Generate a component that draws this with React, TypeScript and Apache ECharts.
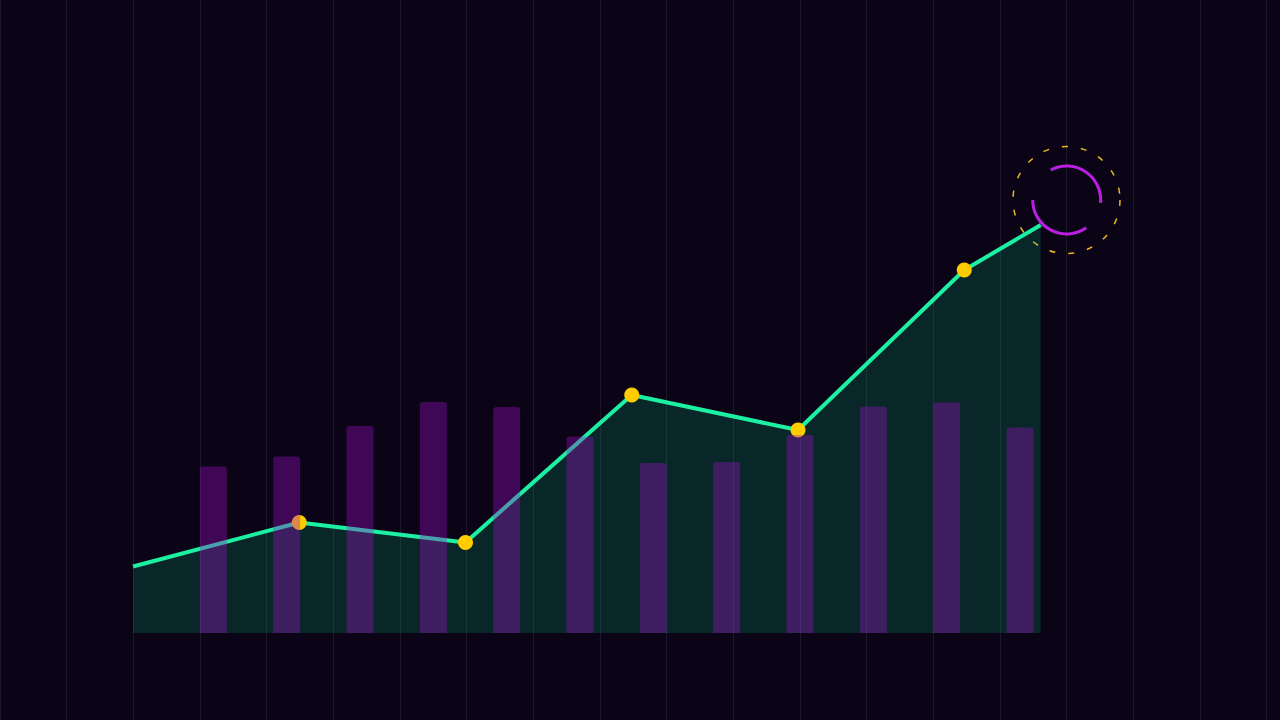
import React, { useEffect, useRef } from "react";
import * as echarts from "echarts";

// Line series: x position (in steps), value
const lineX = [0, 1, 2, 3, 4, 5, 5.46];
const lineValues = [13.3, 22.1, 18.1, 47.6, 40.6, 72.6, 81.6];
const lineMarked = [false, true, true, true, true, true, false];

// Bar series
const barCategories = ["1", "2", "3", "4", "5", "6", "7", "8", "9", "10", "11", "12"];
const barValues = [33.3, 35.3, 41.4, 46.2, 45.2, 39.3, 34.0, 34.2, 39.6, 45.3, 46.1, 41.1];

export default function App() {
  const ref = useRef<HTMLDivElement>(null);
  useEffect(() => {
    document.body.style.margin = "0";
    const chart = echarts.init(ref.current!, undefined, { renderer: "svg" });
    const deg = Math.PI / 180;
    chart.setOption({
      animation: false,
      backgroundColor: "#0b0316",
      grid: [
        { left: 0, right: 0, top: 0, bottom: 0 },
        { left: 133, right: 149.5, top: 133, bottom: 87 },
        { left: 176.67, right: 223.33, top: 133, bottom: 87 },
      ],
      xAxis: [
        {
          gridIndex: 0,
          type: "value",
          min: 0,
          max: 19.2,
          interval: 1,
          axisLine: { show: false },
          axisTick: { show: false },
          axisLabel: { show: false },
          splitLine: { show: true, lineStyle: { color: "#1d1729", width: 1 } },
        },
        { gridIndex: 1, type: "value", min: 0, max: 6, show: false },
        { gridIndex: 2, type: "category", data: barCategories, show: false },
      ],
      yAxis: [
        { gridIndex: 0, type: "value", min: 0, max: 1, show: false },
        { gridIndex: 1, type: "value", min: 0, max: 100, show: false },
        { gridIndex: 2, type: "value", min: 0, max: 100, show: false },
      ],
      series: [
        {
          type: "scatter",
          xAxisIndex: 0,
          yAxisIndex: 0,
          data: [],
        },
        {
          type: "line",
          xAxisIndex: 1,
          yAxisIndex: 1,
          z: 2,
          data: lineX.map((x, i) => ({
            value: [x, lineValues[i]],
            symbol: lineMarked[i] ? "circle" : "none",
          })),
          symbolSize: 15,
          showAllSymbol: true,
          itemStyle: { color: "#ffcc00" },
          lineStyle: { color: "#1cf0a2", width: 4 },
          areaStyle: { color: "rgba(0,240,150,0.15)", opacity: 1, origin: "start" },
        },
        {
          type: "bar",
          xAxisIndex: 2,
          yAxisIndex: 2,
          z: 3,
          data: barValues,
          barWidth: 27,
          itemStyle: {
            color: "rgba(158,16,200,0.36)",
            borderRadius: [3, 3, 0, 0],
          },
        },
      ],
      graphic: [
        {
          type: "circle",
          z: 1,
          shape: { cx: 1066.5, cy: 200, r: 53.5 },
          style: {
            fill: "none",
            stroke: "#e8b820",
            lineWidth: 1.5,
            lineDash: [6, 13],
          },
        },
        {
          type: "arc",
          z: 10,
          shape: { cx: 1066.7, cy: 200, r: 34, startAngle: 242 * deg, endAngle: 365 * deg, clockwise: true },
          style: { fill: "none", stroke: "#b81fe0", lineWidth: 3 },
        },
        {
          type: "arc",
          z: 10,
          shape: { cx: 1066.7, cy: 200, r: 34, startAngle: 55 * deg, endAngle: 180 * deg, clockwise: true },
          style: { fill: "none", stroke: "#b81fe0", lineWidth: 3 },
        },
      ],
    });
    return () => chart.dispose();
  }, []);
  return (
    <div
      ref={ref}
      style={{ position: "fixed", left: 0, top: 0, width: 1280, height: 720 }}
    />
  );
}
